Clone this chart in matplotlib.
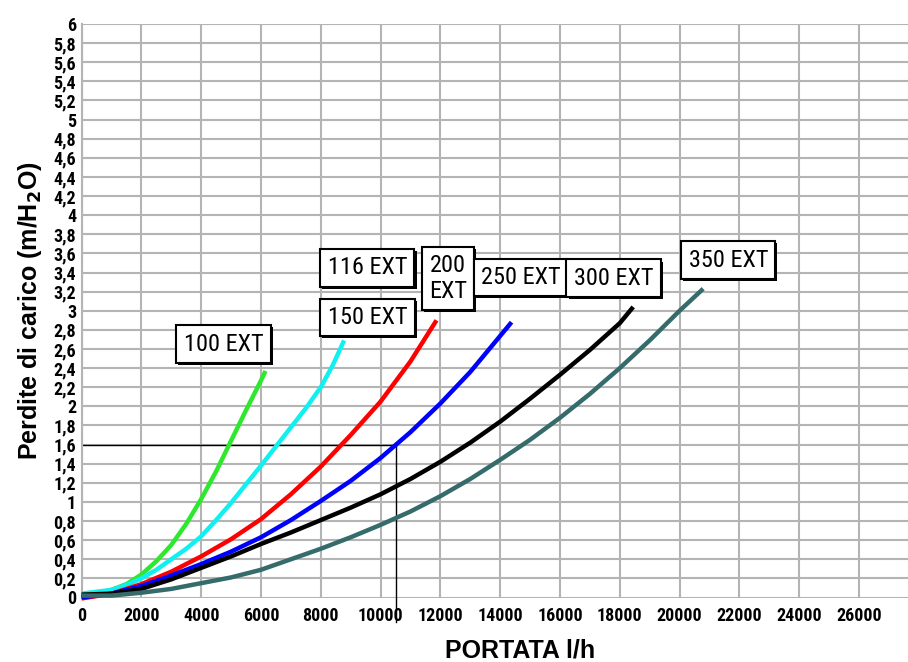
import matplotlib
matplotlib.use("Agg")
import matplotlib.pyplot as plt
import matplotlib.patheffects as pe
from matplotlib.ticker import FixedLocator

# ---- data ----
green_x = [0, 500, 1000, 1500, 2000, 2500, 3000, 3500, 4000, 4500, 5000, 5500, 6000, 6150]
green_y = [0.03, 0.04, 0.08, 0.14, 0.24, 0.38, 0.55, 0.77, 1.03, 1.32, 1.64, 1.96, 2.27, 2.37]

cyan_x = [0, 1000, 1500, 2000, 2500, 3000, 3500, 4000, 4500, 5000, 6000, 7000, 7500, 8000, 8400, 8780]
cyan_y = [0.04, 0.08, 0.13, 0.20, 0.29, 0.40, 0.51, 0.64, 0.81, 0.99, 1.38, 1.78, 1.98, 2.20, 2.43, 2.69]

red_x = [0, 1000, 2000, 3000, 4000, 5000, 6000, 7000, 8000, 9000, 10000, 11000, 11870]
red_y = [-0.01, 0.04, 0.14, 0.27, 0.43, 0.61, 0.82, 1.08, 1.37, 1.70, 2.05, 2.47, 2.90]

blue_x = [0, 1000, 2000, 3000, 4000, 5000, 6000, 7000, 8000, 9000, 10000, 11000,
          12000, 13000, 14380]
blue_y = [0.00, 0.04, 0.12, 0.23, 0.35, 0.48, 0.63, 0.81, 1.01, 1.22, 1.46, 1.73,
          2.03, 2.36, 2.88]

black_x = [0, 1000, 2000, 3000, 4000, 5000, 6000, 7000, 8000, 9000, 10000, 11000,
           12000, 13000, 14000, 15000, 16000, 17000, 18000, 18450]
black_y = [0.03, 0.04, 0.09, 0.19, 0.31, 0.43, 0.56, 0.68, 0.81, 0.94, 1.08, 1.24,
           1.42, 1.62, 1.84, 2.08, 2.33, 2.59, 2.87, 3.04]

slate_x = [0, 1000, 2000, 3000, 4000, 5000, 6000, 7000, 8000, 9000, 10000, 11000,
           12000, 13000, 14000, 15000, 16000, 17000, 18000, 19000, 20000, 20790]
slate_y = [0.02, 0.02, 0.05, 0.09, 0.15, 0.21, 0.29, 0.40, 0.51, 0.63, 0.76, 0.90,
           1.06, 1.24, 1.44, 1.65, 1.88, 2.13, 2.40, 2.69, 3.00, 3.23]

series_labels = ["100 EXT", "116 EXT", "150 EXT", "200\nEXT", "250 EXT", "300 EXT", "350 EXT"]

x_ticks = list(range(0, 26001, 2000))
y_ticks = [i / 5 for i in range(0, 31)]
y_tick_labels = [("%g" % v).replace(".", ",") for v in y_ticks]

ref_flow = 10500
ref_loss = 1.6

# ---- fonts ----
narrow = ["Roboto Condensed", "DejaVu Sans"]
boldfam = ["Liberation Sans", "DejaVu Sans"]

# ---- figure ----
W, H = 908, 662
x0_px, y0_px, ytop_px = 81.6, 597.5, 24.0
fig = plt.figure(figsize=(W / 100, H / 100), dpi=100)
ax = fig.add_axes([x0_px / W, 1 - y0_px / H, 1 - x0_px / W, (y0_px - ytop_px) / H])

ax.set_xlim(0, 27640)
ax.set_ylim(0, 6)
ax.xaxis.set_major_locator(FixedLocator(x_ticks))
ax.yaxis.set_major_locator(FixedLocator(y_ticks))
ax.set_xticklabels([str(v) for v in x_ticks], family=narrow, fontweight="bold", fontsize=13)
ax.set_yticklabels(y_tick_labels, family=narrow, fontweight="bold", fontsize=13)
ax.tick_params(axis="x", length=0, pad=7)
ax.tick_params(axis="y", length=0, pad=4)
ax.grid(True, color="#b4b4b4", linewidth=1.5)
ax.set_axisbelow(True)
for s in ["top", "right", "bottom"]:
    ax.spines[s].set_visible(False)
ax.spines["left"].set_color("#b4b4b4")
ax.spines["left"].set_linewidth(1.5)

# reference lines
ax.plot([0, ref_flow], [ref_loss, ref_loss], color="black", lw=1.0, zorder=2)
ax.plot([ref_flow, ref_flow], [-0.26, ref_loss], color="black", lw=1.0, zorder=2, clip_on=False)

curves = [
    (green_x, green_y, "#2ee82e"),
    (cyan_x, cyan_y, "#11f0f0"),
    (red_x, red_y, "#ff0000"),
    (blue_x, blue_y, "#0000ff"),
    (black_x, black_y, "#000000"),
    (slate_x, slate_y, "#356b6b"),
]
for xs, ys, c in curves:
    ax.plot(xs, ys, color=c, lw=3.2, solid_capstyle="butt", solid_joinstyle="round",
            clip_on=False, zorder=3)

# label boxes
label_pos = [(4745, 2.65), (9560, 3.45), (9560, 2.93), (12250, 3.34),
             (14690, 3.35), (17790, 3.34), (21630, 3.53)]
for lab, (px, py) in zip(series_labels, label_pos):
    t = ax.text(px, py, lab, ha="center", va="center", fontsize=17.5, family=narrow,
                linespacing=1.15, zorder=5,
                bbox=dict(boxstyle="square,pad=0.3", fc="white", ec="black", lw=1.5))
    t.get_bbox_patch().set_path_effects([
        pe.SimplePatchShadow(offset=(1.5, -1.5), shadow_rgbFace="black", alpha=1.0),
        pe.Normal()])

ax.set_ylabel("Perdite di carico (m/H$_\\mathbf{2}$O)", family=boldfam,
              fontweight="bold", fontsize=18)
ax.yaxis.set_label_coords(-(x0_px - 44) / (W - x0_px), 0.5)
fig.text(520 / W, 1 - 651 / H, "PORTATA l/h", ha="center", va="center",
         family=boldfam, fontweight="bold", fontsize=18)

fig.savefig("out.png", dpi=100)
